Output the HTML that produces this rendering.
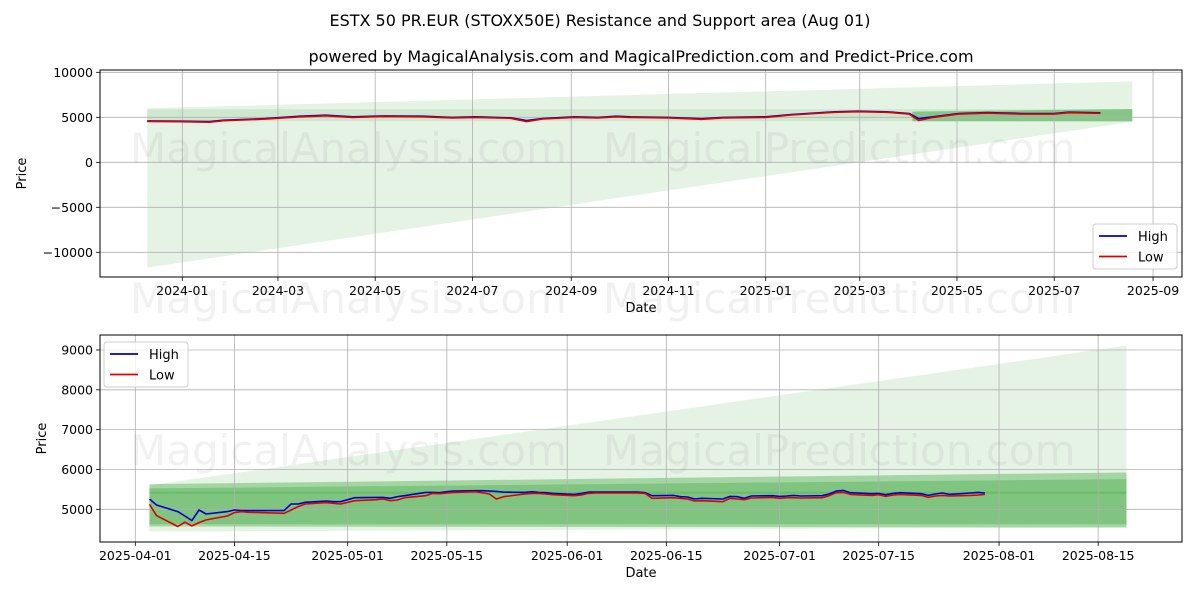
<!DOCTYPE html>
<html><head><meta charset="utf-8"><style>
html,body{margin:0;padding:0;background:#fff;}
svg{display:block;font-family:"DejaVu Sans","Liberation Sans",sans-serif;}
</style></head><body>
<svg id="chart" width="1200" height="600" viewBox="0 0 1200 600" xmlns="http://www.w3.org/2000/svg">
<rect width="1200" height="600" fill="#fff"/>
<text x="600" y="26" text-anchor="middle" font-size="16" fill="#000">ESTX 50 PR.EUR (STOXX50E) Resistance and Support area (Aug 01)</text>
<text x="641" y="62" text-anchor="middle" font-size="16" fill="#000">powered by MagicalAnalysis.com and MagicalPrediction.com and Predict-Price.com</text>
<g id="top"></g>
<g id="bot"></g>
</svg>
<script>
// ---- top panel data ----
const topDates = ["2023-12-10","2023-12-31","2024-01-18","2024-01-27","2024-02-22","2024-03-15","2024-03-31","2024-04-17","2024-05-07","2024-05-31","2024-06-18","2024-07-03","2024-07-25","2024-08-04","2024-08-14","2024-09-03","2024-09-18","2024-09-29","2024-10-08","2024-11-01","2024-11-22","2024-12-05","2025-01-01","2025-01-17","2025-02-13","2025-02-28","2025-03-18","2025-04-01","2025-04-07","2025-04-16","2025-05-02","2025-05-20","2025-06-11","2025-07-01","2025-07-10","2025-07-30"];
const topHigh = [4600,4570,4520,4680,4860,5120,5230,5050,5160,5120,4990,5050,4950,4650,4870,5050,4990,5120,5050,4990,4840,4990,5050,5310,5610,5680,5610,5420,4850,5050,5420,5530,5420,5420,5570,5500];
const topLow  = [4540,4510,4460,4620,4800,5060,5170,4990,5100,5060,4930,4990,4890,4520,4810,4990,4930,5060,4990,4930,4780,4930,4990,5250,5550,5620,5550,5360,4650,4990,5360,5470,5360,5360,5510,5440];
const topXTicks = ["2024-01","2024-03","2024-05","2024-07","2024-09","2024-11","2025-01","2025-03","2025-05","2025-07","2025-09"];
const topYTicks = [10000,5000,0,-5000,-10000];
const topYLabels = ["10000","5000","0","\u22125000","\u221210000"];
// ---- bottom panel data ----
const botDates = ["2025-04-03","2025-04-04","2025-04-07","2025-04-08","2025-04-09","2025-04-10","2025-04-11","2025-04-14","2025-04-15","2025-04-16","2025-04-17","2025-04-22","2025-04-23","2025-04-24","2025-04-25","2025-04-28","2025-04-29","2025-04-30","2025-05-02","2025-05-05","2025-05-06","2025-05-07","2025-05-08","2025-05-09","2025-05-12","2025-05-13","2025-05-14","2025-05-15","2025-05-16","2025-05-19","2025-05-20","2025-05-21","2025-05-22","2025-05-23","2025-05-26","2025-05-27","2025-05-28","2025-05-29","2025-05-30","2025-06-02","2025-06-03","2025-06-04","2025-06-05","2025-06-06","2025-06-09","2025-06-10","2025-06-11","2025-06-12","2025-06-13","2025-06-16","2025-06-17","2025-06-18","2025-06-19","2025-06-20","2025-06-23","2025-06-24","2025-06-25","2025-06-26","2025-06-27","2025-06-30","2025-07-01","2025-07-02","2025-07-03","2025-07-04","2025-07-07","2025-07-08","2025-07-09","2025-07-10","2025-07-11","2025-07-14","2025-07-15","2025-07-16","2025-07-17","2025-07-18","2025-07-21","2025-07-22","2025-07-23","2025-07-24","2025-07-25","2025-07-28","2025-07-29","2025-07-30"];
const botHigh = [5258,5108,4942,4833,4717,4983,4883,4942,4983,4967,4967,4967,5133,5133,5175,5208,5192,5192,5292,5300,5300,5275,5317,5342,5425,5425,5417,5442,5458,5467,5467,5458,5450,5433,5425,5442,5425,5417,5400,5375,5400,5433,5433,5433,5433,5433,5433,5417,5342,5350,5317,5308,5258,5275,5258,5325,5317,5275,5333,5342,5325,5333,5350,5333,5342,5383,5458,5475,5417,5392,5400,5367,5400,5417,5392,5350,5383,5408,5375,5408,5425,5408];
const botLow  = [5125,4842,4567,4675,4583,4667,4733,4833,4917,4942,4925,4900,4983,5067,5133,5167,5150,5133,5217,5242,5258,5217,5233,5292,5342,5400,5392,5408,5425,5442,5417,5383,5258,5317,5383,5400,5400,5383,5367,5342,5358,5400,5408,5408,5408,5408,5408,5400,5275,5292,5275,5258,5208,5217,5192,5275,5258,5242,5283,5300,5275,5292,5292,5283,5292,5342,5417,5425,5375,5350,5367,5325,5358,5375,5350,5300,5333,5350,5333,5350,5358,5375];
const botXTicks = ["2025-04-01","2025-04-15","2025-05-01","2025-05-15","2025-06-01","2025-06-15","2025-07-01","2025-07-15","2025-08-01","2025-08-15"];
const botYTicks = [9000,8000,7000,6000,5000];
// band values [start, end]
const bandStart = "2025-04-03", bandEnd = "2025-08-19";
const outerTop = [5633,5925], innerTop = [5525,5758], innerBot = [4625,4625], outerBot = [4567,4542];
const lightTop = [5600,9108], lightBot = [4442,4542];
const topLightStart = "2023-12-10";
const topLightTop = [6000,9000], topLightBot = [-11700,4500];
const midLine = 5417;

const NS = "http://www.w3.org/2000/svg";
function day(s){ if(s.length===7) s+="-01"; return Date.parse(s+"T00:00:00Z")/86400000; }
function mk(parent, tag, attrs){ const e=document.createElementNS(NS,tag); for(const k in attrs) e.setAttribute(k,attrs[k]); parent.appendChild(e); return e; }

function panel(g, cfg){
  const {L,R,T,B,xs,ys} = cfg;
  cfg.drawBands(xs,ys);
  cfg.xticks.forEach((t,i)=>{
    const x=xs(day(t));
    const gl=mk(g,"line",{x1:x,x2:x,y1:T,y2:B,stroke:"#b0b0b0","stroke-width":0.8});
    
    
    mk(g,"line",{x1:x,x2:x,y1:B,y2:B+4,stroke:"#000","stroke-width":0.8});
    const tx=mk(g,"text",{x:x,y:B+18,"text-anchor":"middle","font-size":12.5,fill:"#000"});
    tx.textContent = t;
    
    
  });
  cfg.yticks.forEach((v,i)=>{
    const y=ys(v);
    const gl=mk(g,"line",{x1:L,x2:R,y1:y,y2:y,stroke:"#b0b0b0","stroke-width":0.8});
    
    
    mk(g,"line",{x1:L-4,x2:L,y1:y,y2:y,stroke:"#000","stroke-width":0.8});
    const tx=mk(g,"text",{x:L-7,y:y+4.5,"text-anchor":"end","font-size":12.5,fill:"#000"});
    tx.textContent = cfg.ylabels?cfg.ylabels[i]:String(v);
    
    
  });
  cfg.wm.forEach(w=>{
    const t=mk(g,"text",{x:w[0],y:w[1],"font-size":42,fill:"#888","fill-opacity":0.12});
    t.textContent=w[2];
    
    
  });
  [["high-line",cfg.high,"#0000cc"],["low-line",cfg.low,"#dd0000"]].forEach(s=>{
    const pts=cfg.dates.map((d,i)=>xs(day(d)).toFixed(1)+","+ys(s[1][i]).toFixed(1)).join(" ");
    const p=mk(g,"polyline",{points:pts,fill:"none",stroke:s[2],"stroke-width":1.6,"stroke-linejoin":"round"});
    
    
  });
  const fr=mk(g,"rect",{x:L,y:T,width:R-L,height:B-T,fill:"none",stroke:"#000","stroke-width":1});
  
  
  const xt=mk(g,"text",{x:(L+R)/2,y:B+35,"text-anchor":"middle","font-size":13,fill:"#000"}); xt.textContent="Date";
  
  
  const yc=(T+B)/2;
  const yt=mk(g,"text",{x:cfg.ytx,y:yc,"text-anchor":"middle","font-size":13,fill:"#000",transform:`rotate(-90 ${cfg.ytx} ${yc})`}); yt.textContent="Price";
  
  
  const [lx,ly]=cfg.leg;
  const lg=mk(g,"g",{});
  
  
  mk(lg,"rect",{x:lx,y:ly,width:84,height:45,rx:3,fill:"#fff","fill-opacity":0.8,stroke:"#ccc"});
  [["High","#0000cc"],["Low","#dd0000"]].forEach((e,i)=>{
    const yy=ly+12+i*20.5;
    const en=mk(lg,"g",{});
    
    
    mk(en,"line",{x1:lx+6,x2:lx+34,y1:yy,y2:yy,stroke:e[1],"stroke-width":1.8});
    const t=mk(en,"text",{x:lx+45,y:yy+5,"font-size":13,fill:"#000"}); t.textContent=e[0];
  });
}

// TOP
(function(){
  const g=document.getElementById("top");
  const L=100,R=1182,T=70,B=277;
  const x0=day("2024-01-01"), px0=182.3, k=1.594;
  const xs=d=>px0+(d-x0)*k;
  const ys=v=>117.3-(v-5000)*0.009;
  panel(g,{L,R,T,B,xs,ys,xticks:topXTicks,yticks:topYTicks,ylabels:topYLabels,dates:topDates,high:topHigh,low:topLow,ytx:26,leg:[1093,224],
    wm:[[130,163,"MagicalAnalysis.com"],[603,163,"MagicalPrediction.com"],[130,313,"MagicalAnalysis.com"],[603,313,"MagicalPrediction.com"]],
    drawBands:(xs,ys)=>{
      const a=xs(day(topLightStart)), b=xs(day(bandEnd)), c=xs(day(bandStart));
      const tri=mk(g,"polygon",{points:`${a},${ys(topLightTop[0])} ${b},${ys(topLightTop[1])} ${b},${ys(topLightBot[1])} ${a},${ys(topLightBot[0])}`,fill:"#2ca02c","fill-opacity":0.12});
      
      
      const lb=mk(g,"polygon",{points:`${a},${ys(5900)} ${b},${ys(5900)} ${b},${ys(4560)} ${a},${ys(4560)}`,fill:"#2ca02c","fill-opacity":0.12});
      
      
      const db=mk(g,"polygon",{points:`${c},${ys(outerTop[0])} ${b},${ys(outerTop[1])} ${b},${ys(outerBot[1])} ${c},${ys(outerBot[0])}`,fill:"#2ca02c","fill-opacity":0.45});
      
      
    }});
})();

// BOTTOM
(function(){
  const g=document.getElementById("bot");
  const L=100,R=1182,T=335,B=542;
  const x0=day("2025-04-01"), px0=135.3, k=7.08;
  const xs=d=>px0+(d-x0)*k;
  const ys=v=>509.3-(v-5000)*0.03983;
  panel(g,{L,R,T,B,xs,ys,xticks:botXTicks,yticks:botYTicks,dates:botDates,high:botHigh,low:botLow,ytx:46,leg:[104,342],
    wm:[[130,465,"MagicalAnalysis.com"],[603,465,"MagicalPrediction.com"]],
    drawBands:(xs,ys)=>{
      const a=xs(day(bandStart)), b=xs(day(bandEnd));
      const poly=(t,bt,op,name)=>{
        const p=mk(g,"polygon",{points:`${a},${ys(t[0])} ${b},${ys(t[1])} ${b},${ys(bt[1])} ${a},${ys(bt[0])}`,fill:"#2ca02c","fill-opacity":op});
        
        
      };
      poly(lightTop,lightBot,0.12,'support-resistance-light-area');
      poly(outerTop,outerBot,0.35,'outer-band');
      poly(innerTop,innerBot,0.3,'inner-band');
      const ml=mk(g,"line",{x1:a,x2:b,y1:ys(midLine),y2:ys(midLine),stroke:"#2ca02c","stroke-opacity":0.25,"stroke-width":2});
      
      
    }});
})();
</script>
</body></html>
